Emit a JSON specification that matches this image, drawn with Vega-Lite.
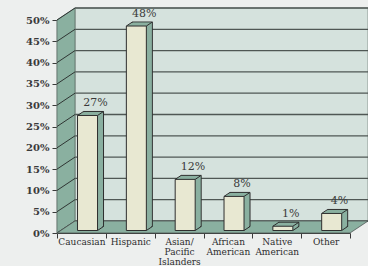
{
  "$schema": "https://vega.github.io/schema/vega-lite/v6.json",
  "width": 293,
  "height": 213,
  "autosize": {"type": "none"},
  "padding": {"left": 57, "top": 20, "right": 18, "bottom": 33},
  "background": "#EDEFEE",
  "config": {"view": {"stroke": null}, "font": "DejaVu Serif"},
  "datasets": {
    "shares": [
      {"group": "Caucasian", "share": 0.27},
      {"group": "Hispanic", "share": 0.48},
      {"group": "Asian/ Pacific Islanders", "share": 0.12},
      {"group": "African American", "share": 0.08},
      {"group": "Native American", "share": 0.01},
      {"group": "Other", "share": 0.04}
    ],
    "levels": [
      {"level": 0}, {"level": 0.05}, {"level": 0.1}, {"level": 0.15}, {"level": 0.2}, {"level": 0.25},
      {"level": 0.3}, {"level": 0.35}, {"level": 0.4}, {"level": 0.45}, {"level": 0.5}
    ],
    "sideWall": [
      {"depth": 0, "low": 0, "high": 0.5},
      {"depth": 0.3686, "low": 0.028169, "high": 0.528169}
    ],
    "floor": [
      {"rise": 0, "left": 0, "right": 6},
      {"rise": 0.028169, "left": 0.3686, "right": 6.3686}
    ]
  },
  "resolve": {"scale": {"x": "independent"}, "axis": {"y": "independent"}},
  "layer": [
    {
      "layer": [
        {
          "data": {"values": [{}]},
          "mark": {"type": "rect", "fill": "#D5E2DD", "stroke": "#8E9A96", "strokeWidth": 1},
          "encoding": {
            "x": {"datum": 0.3686, "type": "quantitative", "scale": {"domain": [0, 6], "nice": false, "zero": false}, "axis": null},
            "x2": {"datum": 6.3686},
            "y": {"datum": 0.028169, "type": "quantitative", "scale": {"domain": [0, 0.5], "nice": false}, "axis": null},
            "y2": {"datum": 0.528169}
          }
        },
        {
          "data": {"name": "levels"},
          "mark": {"type": "rule", "color": "#4F5754", "strokeWidth": 1.3, "xOffset": 18, "x2Offset": 18, "yOffset": -12},
          "encoding": {
            "x": {"datum": 0, "type": "quantitative"},
            "x2": {"datum": 6},
            "y": {"field": "level", "type": "quantitative", "axis": null}
          }
        },
        {
          "data": {"name": "sideWall"},
          "mark": {"type": "area", "color": "#8AB0A0", "stroke": "#5E6E68", "strokeWidth": 0.8},
          "encoding": {
            "x": {"field": "depth", "type": "quantitative"},
            "y": {"field": "high", "type": "quantitative", "axis": null},
            "y2": {"field": "low"}
          }
        },
        {
          "data": {"name": "levels"},
          "mark": {"type": "rule", "color": "#2F3533", "strokeWidth": 1, "x2Offset": 18, "y2Offset": -12},
          "encoding": {
            "x": {"datum": 0, "type": "quantitative"},
            "x2": {"datum": 0},
            "y": {"field": "level", "type": "quantitative", "axis": null},
            "y2": {"field": "level"}
          }
        },
        {
          "data": {"name": "floor"},
          "mark": {"type": "area", "orient": "horizontal", "color": "#8AB0A0", "stroke": "#4F5754", "strokeWidth": 0.8},
          "encoding": {
            "y": {"field": "rise", "type": "quantitative", "axis": null},
            "x": {"field": "left", "type": "quantitative"},
            "x2": {"field": "right"}
          }
        }
      ]
    },
    {
      "data": {"name": "shares"},
      "encoding": {
        "x": {
          "field": "group",
          "type": "nominal",
          "sort": null,
          "scale": {"paddingInner": 0, "paddingOuter": 0},
          "axis": {
            "orient": "bottom",
            "title": null,
            "labelAngle": 0,
            "tickBand": "extent",
            "tickSize": 5,
            "tickColor": "#3A3A3A",
            "domainColor": "#3A3A3A",
            "domainWidth": 1.2,
            "labelFont": "DejaVu Serif",
            "labelFontSize": 9,
            "labelColor": "#2E2E2E",
            "labelLineHeight": 10,
            "labelPadding": -1,
            "labelExpr": "split(datum.label, ' ')"
          }
        },
        "y": {
          "field": "share",
          "type": "quantitative",
          "scale": {"domain": [0, 0.5], "nice": false},
          "axis": {
            "orient": "left",
            "title": null,
            "values": [0, 0.05, 0.1, 0.15, 0.2, 0.25, 0.3, 0.35, 0.4, 0.45, 0.5],
            "format": ".0%",
            "grid": false,
            "labelOverlap": false,
            "tickSize": 5,
            "tickColor": "#3A3A3A",
            "domainColor": "#6E7572",
            "domainWidth": 1.5,
            "labelFont": "DejaVu Serif",
            "labelFontSize": 10,
            "labelFontWeight": "bold",
            "labelColor": "#3A3A3A",
            "labelPadding": 3
          }
        }
      },
      "layer": [
        {"mark": {"type": "bar", "width": 20, "color": "#8AB0A0", "stroke": "#2E2E2E", "strokeWidth": 1, "xOffset": 12.1, "yOffset": -6.5, "y2Offset": -6.5}},
        {"mark": {"type": "bar", "width": 20, "color": "#8AB0A0", "xOffset": 11.1, "yOffset": -5.83, "y2Offset": -5.83}},
        {"mark": {"type": "bar", "width": 20, "color": "#8AB0A0", "xOffset": 10.1, "yOffset": -5.17, "y2Offset": -5.17}},
        {"mark": {"type": "bar", "width": 20, "color": "#8AB0A0", "xOffset": 9.1, "yOffset": -4.5, "y2Offset": -4.5}},
        {"mark": {"type": "bar", "width": 20, "color": "#8AB0A0", "xOffset": 8.1, "yOffset": -3.83, "y2Offset": -3.83}},
        {"mark": {"type": "bar", "width": 20, "color": "#8AB0A0", "xOffset": 7.1, "yOffset": -3.17, "y2Offset": -3.17}},
        {"mark": {"type": "bar", "width": 20, "color": "#E8E8D2", "stroke": "#2E2E2E", "strokeWidth": 1, "xOffset": 6.1, "yOffset": -2.5, "y2Offset": -2.5}},
        {
          "mark": {"type": "rule", "color": "#2E2E2E", "strokeWidth": 1, "xOffset": -3.9, "x2Offset": 2.1, "yOffset": -2.5, "y2Offset": -6.5},
          "encoding": {"x2": {"field": "group"}, "y2": {"field": "share"}}
        },
        {
          "mark": {"type": "rule", "color": "#2E2E2E", "strokeWidth": 1, "xOffset": 16.1, "x2Offset": 22.1, "yOffset": -2.5, "y2Offset": -6.5},
          "encoding": {"x2": {"field": "group"}, "y2": {"field": "share"}}
        },
        {
          "mark": {"type": "rule", "color": "#2E2E2E", "strokeWidth": 1, "xOffset": 16.1, "x2Offset": 22.1, "yOffset": -2.5, "y2Offset": -6.5},
          "encoding": {"x2": {"field": "group"}, "y": {"datum": 0}, "y2": {"datum": 0}}
        },
        {
          "mark": {"type": "text", "font": "DejaVu Serif", "fontSize": 11, "color": "#3A3A3A", "baseline": "alphabetic", "align": "center", "xOffset": 14, "yOffset": -11.5},
          "encoding": {"text": {"field": "share", "type": "quantitative", "format": ".0%"}}
        }
      ]
    }
  ]
}
